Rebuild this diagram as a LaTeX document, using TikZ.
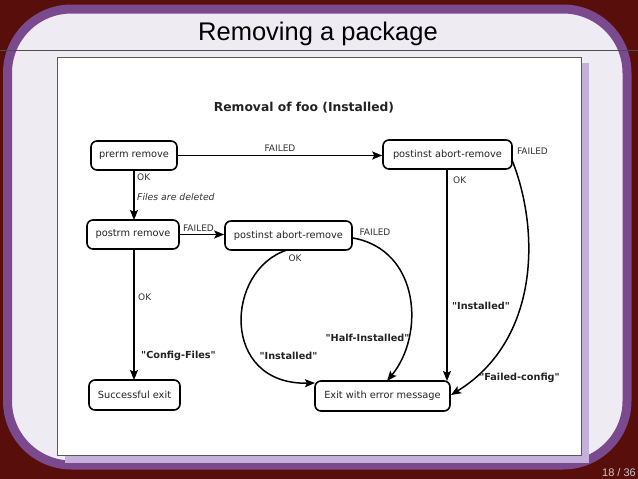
\documentclass[tikz,border=0pt]{standalone}
\usepackage{fontspec}
\setmainfont{DejaVu Sans}[Ligatures=TeXOff]
\newfontfamily\titlefont{Liberation Sans}
\usetikzlibrary{arrows.meta}
\definecolor{bgred}{RGB}{88,14,10}
\definecolor{ringpurple}{RGB}{123,74,142}
\definecolor{lavender}{RGB}{239,235,242}
\definecolor{shadowpurple}{RGB}{197,176,220}
\definecolor{txtgray}{RGB}{35,35,35}
\definecolor{lblgray}{RGB}{50,50,50}
\definecolor{pagegray}{RGB}{200,200,200}
\tikzset{
  statebox/.style={draw=black, line width=1.6pt, rounded corners=6pt, fill=white,
    font=\fontsize{9.8}{11}\selectfont, text=txtgray, inner sep=0pt, minimum height=29pt},
  smalllbl/.style={font=\fontsize{9}{10}\selectfont, text=lblgray, inner sep=0pt},
  boldlbl/.style={font=\bfseries\fontsize{9.7}{11}\selectfont, text=txtgray, inner sep=0pt},
  itlbl/.style={font=\itshape\fontsize{9.3}{10}\selectfont, text=lblgray, inner sep=0pt},
  flow/.style={draw=black, line width=1.5pt, -{Stealth[length=10pt,width=8pt,inset=2pt]}}
}
\begin{document}
\begin{tikzpicture}[x=1pt,y=-1pt]
\useasboundingbox (0,0) rectangle (638,479);
% background
\fill[bgred] (0,0) rectangle (638,479);
\draw[line width=9pt, draw=ringpurple, fill=lavender, rounded corners=64pt] (7.5,9) rectangle (627,465);
\draw[line width=0.8pt, draw=black!70] (0,50) -- (638,50);
\node[font=\titlefont\fontsize{25.5}{28}\selectfont, anchor=base, inner sep=0pt] (title) at (318,40) {Removing a package};
\node[font=\titlefont\fontsize{11}{12}\selectfont, text=pagegray, anchor=base east, inner sep=0pt] (page) at (636,476) {18 / 36};
% image box
\fill[shadowpurple] (65,63) rectangle (589,463);
\draw[fill=white, draw=black!65, line width=0.9pt] (57,57) rectangle (581,455);
% diagram
\node[font=\bfseries\fontsize{12.3}{14}\selectfont, text=txtgray, inner sep=0pt] (dtitle) at (304,108) {Removal of foo (Installed)};
\node[statebox, minimum width=86pt] (prerm) at (134,155.5) {prerm remove};
\node[statebox, minimum width=92pt] (postrm) at (133,234.5) {postrm remove};
\node[statebox, minimum width=127pt] (pmid) at (288.5,235.5) {postinst abort-remove};
\node[statebox, minimum width=129pt] (ptop) at (447.5,154.5) {postinst abort-remove};
\node[statebox, minimum width=91pt, minimum height=30pt] (succ) at (134.5,395) {Successful exit};
\node[statebox, minimum width=135pt, minimum height=30pt] (err) at (382.5,396) {Exit with error message};
% coordinates
\coordinate (prermS) at (134,170);
\coordinate (postrmN) at (134,220);
\coordinate (postrmS) at (134,249);
\coordinate (succN) at (134,380);
\coordinate (ptopS) at (447,169);
\coordinate (errNR) at (447,381);
\coordinate (ptopE) at (512,160);
\coordinate (errE) at (451,395);
\coordinate (pmidE) at (353,238);
\coordinate (errN) at (387,381);
\coordinate (pmidS) at (287,250);
\coordinate (errW) at (315,383);
% edges
\draw[flow] (prerm.east) -- (ptop.west |- prerm.east);
\draw[flow] (prermS) -- (postrmN);
\draw[flow] (postrm.east) -- (pmid.west |- postrm.east);
\draw[flow] (postrmS) -- (succN);
\draw[flow] (ptopS) -- (errNR);
\draw[flow] (ptopE) .. controls (540,230) and (540,340) .. (errE);
\draw[flow] (pmidE) .. controls (420,250) and (425,335) .. (errN);
\draw[flow] (pmidS) .. controls (225,270) and (220,385) .. (errW);
% labels
\node[smalllbl] (l1) at (280,148) {FAILED};
\node[smalllbl, anchor=west] (l2) at (137,177) {OK};
\node[itlbl, anchor=west] (l3) at (137,197) {Files are deleted};
\node[smalllbl] (l4) at (198.5,228) {FAILED};
\node[smalllbl] (l5) at (375,232) {FAILED};
\node[smalllbl] (l6) at (295,258) {OK};
\node[smalllbl, anchor=west] (l7) at (138,297) {OK};
\node[boldlbl] (l8) at (178.5,356) {"Config-Files"};
\node[boldlbl] (l9) at (288.5,356) {"Installed"};
\node[boldlbl] (l10) at (367.5,338) {"Half-Installed"};
\node[smalllbl, anchor=west] (l11) at (453,180) {OK};
\node[boldlbl] (l12) at (481,306) {"Installed"};
\node[smalllbl] (l13) at (532.5,151) {FAILED};
\node[boldlbl] (l14) at (519.5,378) {"Failed-config"};
\end{tikzpicture}
\end{document}
